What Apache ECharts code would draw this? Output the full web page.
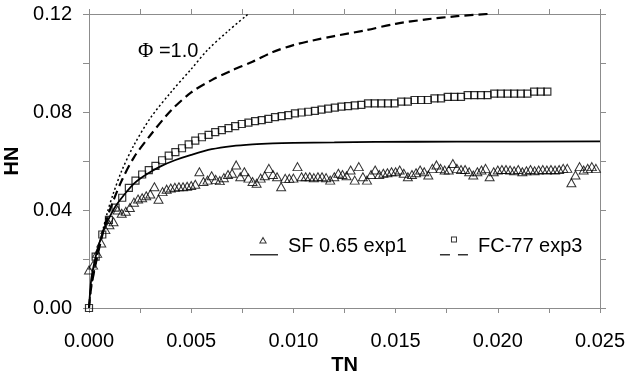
<!DOCTYPE html>
<html><head><meta charset="utf-8">
<script src="https://cdn.jsdelivr.net/npm/echarts@6/dist/echarts.min.js"></script>
<style>html,body{margin:0;padding:0;background:#fff}#c{width:627px;height:374px}</style>
</head><body><div id="c"></div>
<script>
// ---- data ----
const sfTN = [0,0.0002,0.0004,0.0006,0.0008,0.0010,0.0012,0.0014,0.0016,0.0018,
  0.0020,0.0022,0.0024,0.0026,0.0028,0.0030,0.0032,0.0034,0.0036,0.0038,
  0.0040,0.0042,0.0044,0.0046,0.0048,0.0050,0.0052,0.0054,0.0056,0.0058,
  0.0060,0.0062,0.0064,0.0066,0.0068,0.0070,0.0072,0.0074,0.0076,0.0078,
  0.0080,0.0082,0.0084,0.0086,0.0088,0.0090,0.0092,0.0094,0.0096,0.0098,
  0.0100,0.0102,0.0104,0.0106,0.0108,0.0110,0.0112,0.0114,0.0116,0.0118,
  0.0120,0.0122,0.0124,0.0126,0.0128,0.0130,0.0132,0.0134,0.0136,0.0138,
  0.0140,0.0142,0.0144,0.0146,0.0148,0.0150,0.0152,0.0154,0.0156,0.0158,
  0.0160,0.0162,0.0164,0.0166,0.0168,0.0170,0.0172,0.0174,0.0176,0.0178,
  0.0180,0.0182,0.0184,0.0186,0.0188,0.0190,0.0192,0.0194,0.0196,0.0198,
  0.0200,0.0202,0.0204,0.0206,0.0208,0.0210,0.0212,0.0214,0.0216,0.0218,
  0.0220,0.0222,0.0224,0.0226,0.0228,0.0230,0.0232,0.0234,0.0236,0.0238,
  0.0240,0.0242,0.0244,0.0246,0.0248];
const sfHN = [0.0155,0.0175,0.0223,0.0265,0.0320,0.0340,0.0352,0.0400,0.0387,0.0395,
  0.0410,0.0432,0.0445,0.0450,0.0458,0.0465,0.0495,0.0444,0.0475,0.0485,
  0.0490,0.0493,0.0495,0.0495,0.0497,0.0500,0.0505,0.0556,0.0516,0.0522,
  0.0540,0.0525,0.0520,0.0532,0.0545,0.0550,0.0584,0.0536,0.0556,0.0530,
  0.0516,0.0509,0.0530,0.0540,0.0570,0.0545,0.0536,0.0495,0.0529,0.0529,
  0.0530,0.0577,0.0536,0.0536,0.0536,0.0532,0.0536,0.0536,0.0532,0.0522,
  0.0536,0.0550,0.0545,0.0540,0.0563,0.0522,0.0577,0.0536,0.0522,0.0545,
  0.0563,0.0545,0.0550,0.0552,0.0556,0.0556,0.0563,0.0550,0.0536,0.0545,
  0.0552,0.0563,0.0556,0.0543,0.0570,0.0584,0.0570,0.0563,0.0563,0.0590,
  0.0570,0.0565,0.0565,0.0556,0.0543,0.0556,0.0563,0.0570,0.0536,0.0556,
  0.0563,0.0565,0.0565,0.0563,0.0560,0.0565,0.0556,0.0560,0.0565,0.0560,
  0.0563,0.0565,0.0563,0.0565,0.0563,0.0565,0.0570,0.0570,0.0511,0.0543,
  0.0577,0.0563,0.0570,0.0577,0.0570];
const fcTN = [0,0.000325,0.00065,0.000975,0.0013,0.001625,0.00195,0.002275,0.0026,0.002925,
  0.00325,0.003575,0.0039,0.004225,0.00455,0.004875,0.0052,0.005525,0.00585,0.006175,
  0.0065,0.006825,0.00715,0.007475,0.0078,0.008125,0.00845,0.008775,0.0091,0.009425,
  0.00975,0.010075,0.0104,0.010725,0.01105,0.011375,0.0117,0.012025,0.01235,0.012675,
  0.013,0.013325,0.01365,0.013975,0.0143,0.014625,0.01495,0.015275,0.0156,0.015925,
  0.01625,0.016575,0.0169,0.017225,0.01755,0.017875,0.0182,0.018525,0.01885,0.019175,
  0.0195,0.019825,0.02015,0.020475,0.0208,0.021125,0.02145,0.021775,0.0221,0.022425];
const fcHN = [0,0.021,0.030,0.036,0.041,0.045,0.049,0.052,0.0545,0.0563,
  0.058,0.0603,0.0622,0.0636,0.0652,0.0668,0.0683,0.0697,0.0707,0.0718,
  0.0726,0.0734,0.0742,0.0751,0.0757,0.0763,0.0767,0.0772,0.0779,0.0783,
  0.0787,0.0794,0.0798,0.0801,0.0805,0.0810,0.0814,0.0818,0.0822,0.0824,
  0.0827,0.0829,0.0835,0.0835,0.0835,0.0835,0.0835,0.0842,0.0842,0.0849,
  0.0849,0.0849,0.0856,0.0856,0.0862,0.0862,0.0862,0.0869,0.0869,0.0869,
  0.0869,0.0875,0.0875,0.0875,0.0875,0.0875,0.0875,0.0883,0.0883,0.0883];
const sfModelTN = [0,0.0001,0.0002,0.0004,0.0006,0.0008,0.001,0.0013,0.0017,0.0022,0.0028,0.0035,0.0042,0.005,0.006,0.007,0.008,0.009,0.010,0.012,0.014,0.018,0.025];
const sfModelHN = [0,0.011,0.016,0.0235,0.029,0.0335,0.037,0.0415,0.046,0.0508,0.0545,0.0578,0.0603,0.0625,0.0648,0.0661,0.0668,0.0672,0.0674,0.0676,0.0678,0.0679,0.0680];
const fcModelTN = [0,0.0001,0.0003,0.0006,0.0009,0.0012,0.0016,0.0022,0.003,0.004,0.005,0.006,0.007,0.008,0.009,0.010,0.011,0.012,0.0135,0.015,0.0165,0.018,0.0195];
const fcModelHN = [0,0.008,0.017,0.028,0.037,0.044,0.052,0.0615,0.0705,0.0805,0.088,0.093,0.097,0.1005,0.1045,0.1073,0.1093,0.1110,0.1133,0.1160,0.1178,0.1191,0.1200];
const phiTN = [0,0.0001,0.0003,0.0006,0.0009,0.0012,0.0016,0.0022,0.003,0.004,0.005,0.0058,0.0068,0.00779];
const phiHN = [0,0.008,0.017,0.029,0.039,0.047,0.056,0.0665,0.0775,0.088,0.0975,0.1053,0.1130,0.1200];
const xTicks = ['0.000','0.005','0.010','0.015','0.020','0.025'];
const yTicks = ['0.00','0.04','0.08','0.12'];
const seriesNames = ['SF 0.65 exp1','FC-77 exp3'];

const zip = (a,b) => a.map((v,i)=>[v,b[i]]);
const AX = '#8c8c8c';
const FONT = 'Liberation Sans, Arial, sans-serif';

const chart = echarts.init(document.getElementById('c'), null, {renderer:'canvas'});
const baseX = {type:'value', min:0, max:0.025, interval:0.0025,
  axisLine:{show:true, onZero:false, lineStyle:{color:AX,width:1}},
  axisTick:{show:true, length:5, lineStyle:{color:AX}}, splitLine:{show:false}};
const baseY = {type:'value', min:0, max:0.12, interval:0.02,
  axisLine:{show:true, onZero:false, lineStyle:{color:AX,width:1}},
  axisTick:{show:true, length:6, lineStyle:{color:AX}}, splitLine:{show:false}};

const triIcon = 'path://M13,0 L17,7 L9,7 Z M13,2.2 L10.6,6 L15.4,6 Z M0,17.5 L28,17.5 L28,19 L0,19 Z';
const sqIcon = 'path://M11,0 L17,0 L17,6 L11,6 Z M12,1 L12,5 L16,5 L16,1 Z M0,17.5 L10,17.5 L10,19 L0,19 Z M18,17.5 L28,17.5 L28,19 L18,19 Z';

chart.setOption({
  animation:false,
  grid:{left:89, right:27, top:14, bottom:66, containLabel:false, outerBoundsMode:'none'},
  xAxis:[
    Object.assign({}, baseX, {position:'bottom', name:'TN', nameLocation:'middle', nameGap:44,
      nameTextStyle:{fontSize:20, fontWeight:'bold', fontFamily:FONT, color:'#000'},
      axisLabel:{show:true, margin:23, fontSize:20, fontFamily:FONT, color:'#000',
        formatter:(v)=>{const k=Math.round(v/0.0025); return k%2===0 ? xTicks[k/2] : '';}}}),
    Object.assign({}, baseX, {position:'top', axisLabel:{show:false}})
  ],
  yAxis:[
    Object.assign({}, baseY, {position:'left', name:'HN', nameLocation:'middle', nameGap:62,
      nameTextStyle:{fontSize:20, fontWeight:'bold', fontFamily:FONT, color:'#000'},
      axisLabel:{show:true, margin:17, fontSize:20, fontFamily:FONT, color:'#000',
        formatter:(v)=>{const k=Math.round(v/0.02); return k%2===0 ? yTicks[k/2] : '';}}}),
    Object.assign({}, baseY, {position:'right', axisLabel:{show:false}})
  ],
  legend:{left:250, top:236, padding:0, itemWidth:28, itemHeight:19, itemGap:33, selectedMode:false,
    textStyle:{fontSize:20, fontFamily:FONT, color:'#000', padding:[0,0,4,5]},
    itemStyle:{color:'#000', borderWidth:0},
    data:[{name:seriesNames[0], icon:triIcon},{name:seriesNames[1], icon:sqIcon}]},
  graphic:[{type:'text', left:138, top:41,
    style:{text:'{p|Φ} =1.0', fill:'#000', font:'20px '+FONT,
      rich:{p:{fontFamily:'Liberation Serif, serif', fontSize:21, fill:'#000'}}}}],
  series:[
    {name:'Φ=1.0', type:'line', data:zip(phiTN,phiHN), smooth:0.3, showSymbol:false,
      lineStyle:{color:'#000', width:1.5, type:[2,2.5]}, z:3},
    {name:'FC-77 model', type:'line', data:zip(fcModelTN,fcModelHN), smooth:0.3, showSymbol:false,
      lineStyle:{color:'#000', width:2.2, type:[9,5]}, z:3},
    {name:'SF 0.65 model', type:'line', data:zip(sfModelTN,sfModelHN), smooth:0.3, showSymbol:false,
      lineStyle:{color:'#000', width:1.8, type:'solid'}, z:3},
    {name:seriesNames[0], type:'scatter', data:zip(sfTN,sfHN), symbol:'triangle', symbolSize:[9,8],
      itemStyle:{color:'rgba(0,0,0,0)', borderColor:'#000', borderWidth:1}, z:2},
    {name:seriesNames[1], type:'scatter', data:zip(fcTN,fcHN), symbol:'rect', symbolSize:7,
      itemStyle:{color:'rgba(0,0,0,0)', borderColor:'#000', borderWidth:1.2}, z:2}
  ]
});
</script></body></html>
